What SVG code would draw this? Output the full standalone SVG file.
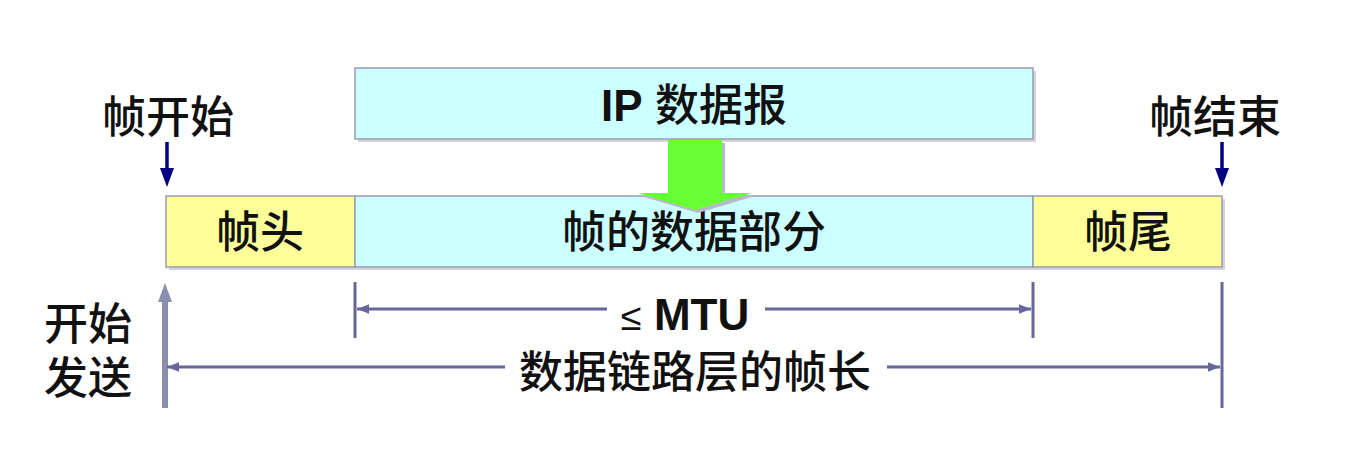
<svg xmlns="http://www.w3.org/2000/svg" width="1369" height="450" viewBox="0 0 1369 450">
<defs>
<style>
.t{font-family:"Liberation Sans","Noto Sans CJK SC",sans-serif;font-size:44px;font-weight:500;fill:#111;text-anchor:middle}
.b{stroke:#9a9ab8;stroke-width:1.5}
.sh{fill:#d4d4d8}
.dim{stroke:#666699;stroke-width:3;fill:none}
</style>
<marker id="ah" viewBox="0 0 10 10" refX="10" refY="5" markerWidth="4" markerHeight="4" orient="auto-start-reverse"><path d="M0,1 L10,5 L0,9 Z" fill="#666699"/></marker>
</defs>
<rect width="1369" height="450" fill="#fff"/>
<g id="ip">
<rect class="sh" x="358" y="71" width="678" height="71"/>
<rect class="b" x="355" y="68" width="678" height="71" fill="#ccffff"/>
<text class="t" x="694" y="121"><tspan font-weight="bold">IP</tspan> 数据报</text>
</g>
<g id="frame">
<rect class="sh" x="169" y="199" width="1056" height="71"/>
<g id="head"><rect class="b" x="166" y="196" width="189" height="71" fill="#ffff99"/><text class="t" x="260" y="248">帧头</text></g>
<g id="data"><rect class="b" x="355" y="196" width="678" height="71" fill="#ccffff"/><text class="t" x="694" y="248">帧的数据部分</text></g>
<g id="tail"><rect class="b" x="1033" y="196" width="189" height="71" fill="#ffff99"/><text class="t" x="1128" y="248">帧尾</text></g>
</g>
<g id="green-arrow">
<path d="M671,143 L725,143 L725,196 L755,196 L698,213 L641,196 L671,196 Z" fill="#b8b8c8"/>
<path d="M668,140 L722,140 L722,193 L752,193 L695,210 L638,193 L668,193 Z" fill="#66ff33"/>
</g>
<g id="start-label">
<text class="t" x="168" y="133">帧开始</text>
</g>
<g id="end-label">
<text class="t" x="1215" y="133">帧结束</text>
</g>
<g id="send-label">
<text class="t" x="88" y="340">开始</text>
<text class="t" x="88" y="394">发送</text>
</g>
<g id="connectors">
<line x1="167" y1="142" x2="167" y2="170" stroke="#000080" stroke-width="3.5"/>
<path d="M160,168 L174,168 L167,187 Z" fill="#000080"/>
<line x1="1222" y1="142" x2="1222" y2="170" stroke="#000080" stroke-width="3.5"/>
<path d="M1215,168 L1229,168 L1222,187 Z" fill="#000080"/>
<line x1="165" y1="300" x2="165" y2="408" stroke="#8a8fae" stroke-width="6"/>
<path d="M158,302 L172,302 L165,283 Z" fill="#8a8fae"/>
<line class="dim" x1="355" y1="282" x2="355" y2="338"/>
<line class="dim" x1="1033" y1="282" x2="1033" y2="338"/>
<line class="dim" x1="1222" y1="282" x2="1222" y2="408"/>
<line class="dim" x1="607" y1="309" x2="357" y2="309" marker-end="url(#ah)"/>
<line class="dim" x1="765" y1="309" x2="1031" y2="309" marker-end="url(#ah)"/>
<line class="dim" x1="505" y1="367" x2="167" y2="367" marker-end="url(#ah)"/>
<line class="dim" x1="887" y1="367" x2="1220" y2="367" marker-end="url(#ah)"/>
</g>
<g id="mtu"><text class="t" x="685" y="330"><tspan font-weight="normal" font-size="38">≤</tspan> <tspan font-weight="bold">MTU</tspan></text></g>
<g id="len"><text class="t" x="695" y="388">数据链路层的帧长</text></g>
</svg>
